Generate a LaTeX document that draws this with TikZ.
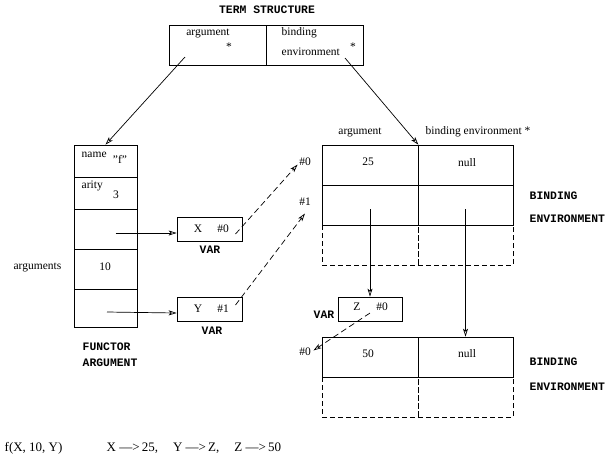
\documentclass[tikz,border=0pt]{standalone}
\usepackage{fontspec}
\setmainfont{Liberation Serif}
\setmonofont{Liberation Mono}
\usetikzlibrary{arrows.meta, positioning}

\begin{document}
\begin{tikzpicture}[
  x=1pt, y=-1pt,
  % boxes of the structures
  cell/.style 2 args={draw, line width=0.7pt, minimum width=#1, minimum height=#2,
                      inner sep=0pt},
  dcell/.style 2 args={cell={#1}{#2}, dash pattern=on 5pt off 3pt},
  % texts
  txt/.style={font=\fontsize{11.5}{13}\selectfont, inner sep=0.5pt},
  foot/.style={font=\fontsize{13}{15}\selectfont, inner sep=0.5pt},
  tag/.style={font=\ttfamily\bfseries\fontsize{11.4}{13}\selectfont, inner sep=0.5pt},
  % arrows
  arr/.style={-{Stealth[open, length=8pt, width=5pt, inset=2pt]}, line width=0.7pt},
  darr/.style={arr, dash pattern=on 6pt off 3.5pt},
]
\useasboundingbox (0,0) rectangle (607,459);

% ── TERM STRUCTURE ─────────────────────────────
\node[tag] (tstitle) at (267,10) {TERM STRUCTURE};
\node[cell={97pt}{40pt}] (tsarg) at (217.5,45) {};
\node[cell={97pt}{40pt}] (tsenv) at (314.5,45) {};
\node[txt] at (208,33) {argument};
\node[txt] at (229,47) {*};
\node[txt, anchor=west] at (281,33) {binding};
\node[txt, anchor=west] at (281,52) {environment};
\node[txt] at (353,47) {*};

% ── FUNCTOR ARGUMENT ───────────────────────────
\node[cell={63pt}{32pt}] (fname)  at (105.5,161) {};
\node[cell={63pt}{32pt}] (farity) at (105.5,193) {};
\node[cell={63pt}{40pt}] (farg1)  at (105.5,229) {};
\node[cell={63pt}{40pt}] (farg2)  at (105.5,269) {};
\node[cell={63pt}{38pt}] (farg3)  at (105.5,308) {};
\node[txt, anchor=west] at (81,155) {name};
\node[txt] at (120,159) {\char34 f\char34};
\node[txt, anchor=west] at (81,186) {arity};
\node[txt] at (116,195) {3};
\node[txt] at (105,267) {10};
\node[txt, anchor=east] (argsl) at (62,267) {arguments};
\node[tag, anchor=west] at (82,347) {FUNCTOR};
\node[tag, anchor=west] at (82,363) {ARGUMENT};

% ── VAR X / VAR Y ──────────────────────────────
\node[cell={65pt}{24pt}] (xvar) at (209.5,229) {};
\node[txt] at (198,229) {X};
\node[txt] at (223,229) {\#0};
\node[tag] at (210,250) {VAR};
\node[cell={65pt}{24pt}] (yvar) at (209.5,309) {};
\node[txt] at (198,309) {Y};
\node[txt] at (223,309) {\#1};
\node[tag] at (212,331) {VAR};

% ── BINDING ENVIRONMENT 1 ──────────────────────
\node[txt] at (360,132) {argument};
\node[txt] at (478,132) {binding environment *};
\node[cell={96pt}{40pt}]  (be0a) at (370,165) {};
\node[cell={95pt}{40pt}]  (be0b) at (465.5,165) {};
\node[cell={96pt}{40pt}]  (be1a) at (370,205) {};
\node[cell={95pt}{40pt}]  (be1b) at (465.5,205) {};
\node[dcell={96pt}{40pt}] (be1c) at (370,245) {};
\node[dcell={95pt}{40pt}] (be1d) at (465.5,245) {};
\node[txt] at (368,162) {25};
\node[txt] at (467,163) {null};
\node[txt] (hzero) at (305,162) {\#0};
\node[txt] (hone)  at (305,202) {\#1};
\node[tag, anchor=west] at (529,196) {BINDING};
\node[tag, anchor=west] at (529,219) {ENVIRONMENT};

% ── VAR Z ──────────────────────────────────────
\node[cell={64pt}{24pt}] (zvar) at (370,309) {};
\node[txt] at (357,307) {Z};
\node[txt] at (382,307) {\#0};
\node[tag] at (324,315) {VAR};

% ── BINDING ENVIRONMENT 2 ──────────────────────
\node[cell={96pt}{40pt}]  (be2a) at (370,357) {};
\node[cell={95pt}{40pt}]  (be2b) at (465.5,357) {};
\node[dcell={96pt}{40pt}] (be2c) at (370,397) {};
\node[dcell={95pt}{40pt}] (be2d) at (465.5,397) {};
\node[txt] at (368,354) {50};
\node[txt] at (467,354) {null};
\node[txt] (htwo) at (305,352) {\#0};
\node[tag, anchor=west] at (529,362) {BINDING};
\node[tag, anchor=west] at (529,387) {ENVIRONMENT};

% ── footer ─────────────────────────────────────
\node[foot, anchor=west] at (4,448) {f(X, 10, Y)};
\node[foot, anchor=west] at (106,448)
  {X --->\,25,\hspace{15pt}Y --->\,Z,\hspace{15pt}Z --->\,50};

% ── ARROWS ─────────────────────────────────────
\draw[arr] ([xshift=-32.5pt,yshift=-12pt]tsarg.center) -- (fname.north);
\draw[arr] ([xshift=30.5pt,yshift=-13pt]tsenv.center) -- (be0a.north east);
\draw[arr] ([xshift=10pt,yshift=-4pt]farg1.center) -- ([yshift=-4pt]xvar.west);
\draw[arr] ([xshift=1.5pt,yshift=-4pt]farg3.center) -- ([yshift=-4pt]yvar.west);
\draw[darr] ([xshift=26pt,yshift=-5pt]xvar.center) -- ([xshift=-1pt,yshift=2pt]hzero.south west);
\draw[darr] ([xshift=26pt,yshift=4pt]yvar.center) -- ([yshift=-7pt]hone.south);
\draw[arr] ([yshift=-4pt]be1a.center) -- (zvar.north);
\draw[arr] ([yshift=-4pt]be1b.center) -- (be2b.north);
\draw[darr] ([yshift=-4pt]zvar.center) -- ([xshift=2pt,yshift=-3pt]htwo.north east);

\end{tikzpicture}
\end{document}
